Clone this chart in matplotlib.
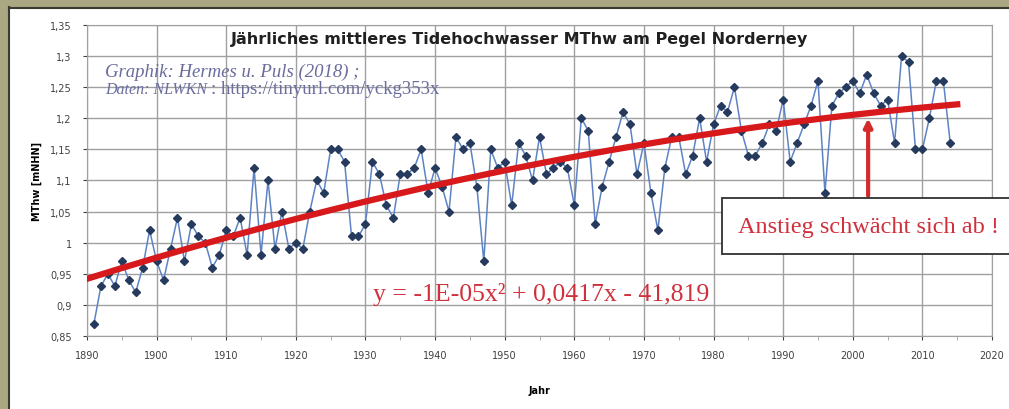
import numpy as np
import matplotlib
matplotlib.use('Agg')
from matplotlib import pyplot as plt
from matplotlib.patches import Rectangle

# MThw Norderney
years = list(range(1891, 2015))
mthw = [0.87, 0.93, 0.95, 0.93, 0.97, 0.94, 0.92, 0.96, 1.02,
        0.97, 0.94, 0.99, 1.04, 0.97, 1.03, 1.01, 1.00, 0.96, 0.98,
        1.02, 1.01, 1.04, 0.98, 1.12, 0.98, 1.10, 0.99, 1.05, 0.99,
        1.00, 0.99, 1.05, 1.10, 1.08, 1.15, 1.15, 1.13, 1.01, 1.01,
        1.03, 1.13, 1.11, 1.06, 1.04, 1.11, 1.11, 1.12, 1.15, 1.08,
        1.12, 1.09, 1.05, 1.17, 1.15, 1.16, 1.09, 0.97, 1.15, 1.12,
        1.13, 1.06, 1.16, 1.14, 1.10, 1.17, 1.11, 1.12, 1.13, 1.12,
        1.06, 1.20, 1.18, 1.03, 1.09, 1.13, 1.17, 1.21, 1.19, 1.11,
        1.16, 1.08, 1.02, 1.12, 1.17, 1.17, 1.11, 1.14, 1.20, 1.13,
        1.19, 1.22, 1.21, 1.25, 1.18, 1.14, 1.14, 1.16, 1.19, 1.18,
        1.23, 1.13, 1.16, 1.19, 1.22, 1.26, 1.08, 1.22, 1.24, 1.25,
        1.26, 1.24, 1.27, 1.24, 1.22, 1.23, 1.16, 1.30, 1.29, 1.15,
        1.15, 1.20, 1.26, 1.26, 1.16]
trend_years = [1890, 2015]
ytick_vals = [0.85, 0.9, 0.95, 1.0, 1.05, 1.1, 1.15, 1.2, 1.25, 1.3, 1.35]
ytick_labels = ['0,85', '0,9', '0,95', '1', '1,05', '1,1', '1,15', '1,2', '1,25', '1,3', '1,35']
xtick_vals = list(range(1890, 2021, 10))
arrow_year = 2002.2

fig = plt.figure(figsize=(10.09, 4.10), dpi=100)
fig.patch.set_facecolor('white')

# olive frame of the screenshot
fig.patches.append(Rectangle((0, 0), 0.0075, 1, transform=fig.transFigure, color='#a9a883', zorder=0))
fig.patches.append(Rectangle((0, 0.981), 1, 0.019, transform=fig.transFigure, color='#a9a883', zorder=0))
fig.lines.append(plt.Line2D([0.0085, 0.0085], [0, 0.981], transform=fig.transFigure, color='#3a3a30', lw=1.5))
fig.lines.append(plt.Line2D([0.0085, 1], [0.979, 0.979], transform=fig.transFigure, color='#3a3a30', lw=1.5))

ax = fig.add_axes([0.0862, 0.178, 0.8970, 0.759])
ax.set_xlim(1890, 2020)
ax.set_ylim(0.85, 1.35)
ax.set_xticks(xtick_vals)
ax.set_xticks(range(1895, 2020, 10), minor=True)
ax.set_yticks(ytick_vals)
ax.set_yticklabels(ytick_labels)
ax.grid(True, color='#a0a0a0', lw=1)
ax.set_axisbelow(True)
for s in ax.spines.values():
    s.set_color('#a0a0a0')
ax.tick_params(axis='both', labelsize=7, colors='#404040', length=3, pad=8)
ax.tick_params(axis='x', which='minor', length=3, color='#a0a0a0')
ax.tick_params(axis='x', pad=7)
ax.set_ylabel('MThw [mNHN]', fontsize=7, fontweight='bold', labelpad=6)
ax.set_xlabel('Jahr', fontsize=7, fontweight='bold', labelpad=18)

ax.plot(years, mthw, color='#5d83c4', lw=1.1, marker='D', markersize=3.8,
        markerfacecolor='#253a5c', markeredgecolor='#253a5c', zorder=3)

# quadratic trend line
coef = np.polyfit(years, mthw, 2)
tx = np.linspace(trend_years[0], trend_years[1], 200)
ax.plot(tx, np.polyval(coef, tx), color='#d7191c', lw=4.5, zorder=4)

ax.text(0.478, 0.955, 'Jährliches mittleres Tidehochwasser MThw am Pegel Norderney',
        transform=ax.transAxes, ha='center', va='center', fontsize=11.5,
        fontweight='bold', family='Liberation Sans Narrow', color='#202020')
ax.text(0.02, 0.852, 'Graphik: Hermes u. Puls (2018) ;', transform=ax.transAxes,
        va='center', fontsize=13.5, style='italic', family='Liberation Serif', color='#6a6c9c')
daten = ax.text(0.02, 0.795, 'Daten: NLWKN', transform=ax.transAxes,
                va='center', fontsize=11.5, style='italic', family='Liberation Serif', color='#6a6c9c')
ax.annotate(': https://tinyurl.com/yckg353x', xy=(1, 0.5), xycoords=daten,
            xytext=(3, 0), textcoords='offset points', va='center',
            fontsize=13.5, family='Liberation Serif', color='#6a6c9c')

ax.text(0.316, 0.138, 'y = -1E-05x² + 0,0417x - 41,819', transform=ax.transAxes,
        va='center', fontsize=18.5, family='Liberation Serif', color='#d0303c')

# annotation box with arrow
ax.add_patch(Rectangle((1981.2, 0.982), 45, 0.089, facecolor='white',
                       edgecolor='#303030', lw=1.3, clip_on=False, zorder=6))
ax.annotate('', xy=(arrow_year, np.polyval(coef, arrow_year) - 0.004), xytext=(arrow_year, 1.071),
            arrowprops=dict(arrowstyle='-|>', color='#d42a2a', lw=3, mutation_scale=12),
            zorder=5)
ax.text(arrow_year, 1.026, 'Anstieg schwächt sich ab !', ha='center', va='center',
        fontsize=17.5, family='Liberation Serif', color='#d0303c', zorder=7, clip_on=False)

fig.savefig('out.png', dpi=100)
